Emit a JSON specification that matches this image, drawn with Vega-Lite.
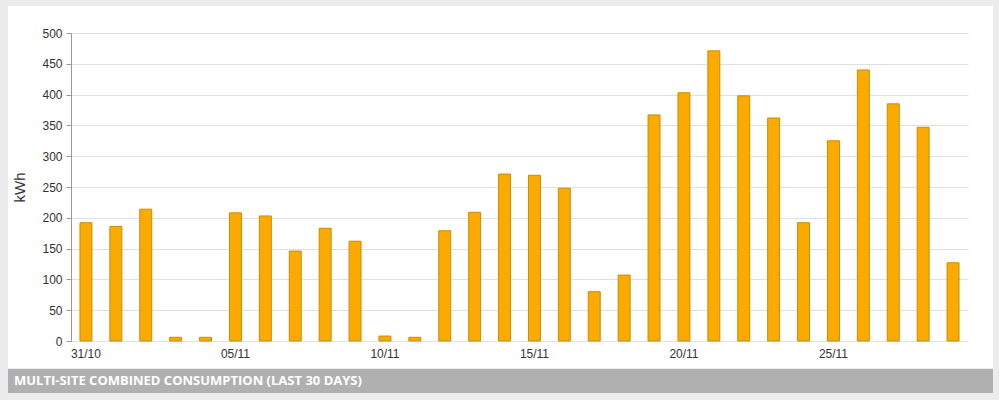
{
  "$schema": "https://vega.github.io/schema/vega-lite/v6.json",
  "background": "#ececec",
  "padding": {"left": 8, "top": 6, "right": 6, "bottom": 7},
  "spacing": 1,
  "config": {
    "font": "Liberation Sans",
    "view": {"stroke": null}
  },
  "vconcat": [
    {
      "width": 985,
      "height": 362,
      "view": {"fill": "white", "stroke": null},
      "data": {
        "values": [
          {"day": "31/10", "kwh": 192},
          {"day": "01/11", "kwh": 186},
          {"day": "02/11", "kwh": 214},
          {"day": "03/11", "kwh": 6},
          {"day": "04/11", "kwh": 6},
          {"day": "05/11", "kwh": 208},
          {"day": "06/11", "kwh": 203},
          {"day": "07/11", "kwh": 146},
          {"day": "08/11", "kwh": 183},
          {"day": "09/11", "kwh": 162},
          {"day": "10/11", "kwh": 8},
          {"day": "11/11", "kwh": 6},
          {"day": "12/11", "kwh": 179},
          {"day": "13/11", "kwh": 209},
          {"day": "14/11", "kwh": 271},
          {"day": "15/11", "kwh": 269},
          {"day": "16/11", "kwh": 248},
          {"day": "17/11", "kwh": 80},
          {"day": "18/11", "kwh": 107},
          {"day": "19/11", "kwh": 367},
          {"day": "20/11", "kwh": 403},
          {"day": "21/11", "kwh": 471},
          {"day": "22/11", "kwh": 398},
          {"day": "23/11", "kwh": 362},
          {"day": "24/11", "kwh": 192},
          {"day": "25/11", "kwh": 325},
          {"day": "26/11", "kwh": 440},
          {"day": "27/11", "kwh": 385},
          {"day": "28/11", "kwh": 347},
          {"day": "29/11", "kwh": 127}
        ]
      },
      "mark": {"type": "bar", "fill": "#fbaa00", "stroke": "#cc8c00", "strokeWidth": 1},
      "encoding": {
        "x": {
          "field": "day",
          "type": "ordinal",
          "sort": null,
          "scale": {"range": [63, 960], "paddingInner": 0.6, "paddingOuter": 0.3},
          "axis": {
            "title": null,
            "orient": "bottom",
            "offset": -27,
            "values": ["31/10", "05/11", "10/11", "15/11", "20/11", "25/11"],
            "labelAngle": 0,
            "domain": false,
            "ticks": false,
            "tickSize": 0,
            "grid": false,
            "labelPadding": 7,
            "labelFontSize": 12,
            "labelColor": "#333333",
            "labelFont": "Liberation Sans"
          }
        },
        "y": {
          "field": "kwh",
          "type": "quantitative",
          "scale": {"domain": [0, 500], "range": [335, 27], "nice": false},
          "axis": {
            "title": "kWh",
            "offset": -63,
            "values": [0, 50, 100, 150, 200, 250, 300, 350, 400, 450, 500],
            "grid": true,
            "gridColor": "#e0e0e0",
            "domain": true,
            "domainColor": "#999999",
            "tickColor": "#999999",
            "tickSize": 5,
            "labelPadding": 4,
            "labelFontSize": 12,
            "labelColor": "#333333",
            "labelFont": "Liberation Sans",
            "minExtent": 30,
            "maxExtent": 30,
            "titlePadding": 14,
            "titleFontSize": 15,
            "titleFontWeight": "normal",
            "titleColor": "#333333",
            "titleFont": "Liberation Sans"
          }
        }
      }
    },
    {
      "width": 985,
      "height": 24,
      "view": {"fill": "#b0b0b0", "stroke": null},
      "data": {"values": [{"label": "MULTI-SITE COMBINED CONSUMPTION (LAST 30 DAYS)"}]},
      "mark": {"type": "rect", "fill": "#b0b0b0"},
      "title": {
        "text": "MULTI-SITE COMBINED CONSUMPTION (LAST 30 DAYS)",
        "orient": "bottom",
        "anchor": "start",
        "offset": -12,
        "baseline": "middle",
        "dx": 6,
        "color": "white",
        "font": "Open Sans",
        "fontSize": 13,
        "fontWeight": "bold"
      }
    }
  ]
}
